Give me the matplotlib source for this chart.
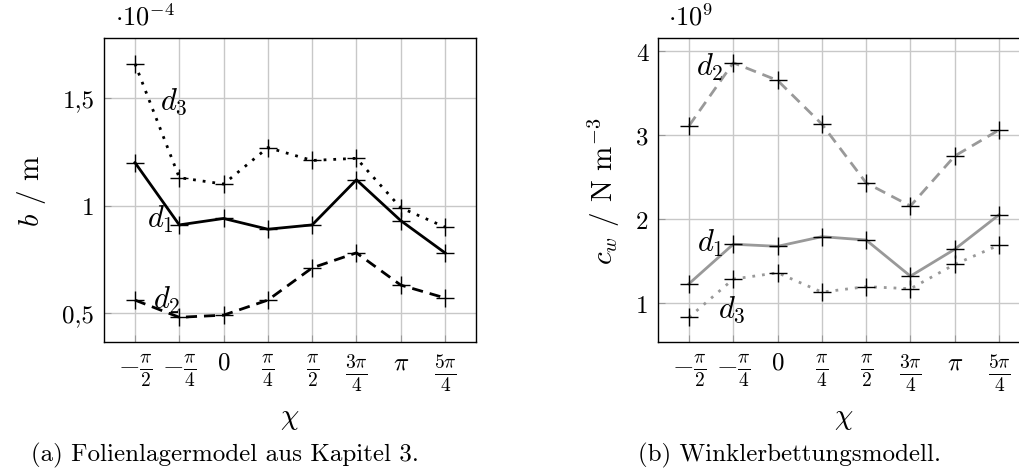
import numpy as np
import matplotlib
matplotlib.use("Agg")
import matplotlib.pyplot as plt

plt.rcParams['font.family'] = ['cmr10', 'DejaVu Serif']
plt.rcParams['mathtext.fontset'] = 'cm'
plt.rcParams['axes.unicode_minus'] = False

# chi values (multiples of pi/4)
chi = np.array([-2, -1, 0, 1, 2, 3, 4, 5]) * np.pi / 4
chi_labels = [r'$-\frac{\pi}{2}$', r'$-\frac{\pi}{4}$', r'$0$', r'$\frac{\pi}{4}$',
              r'$\frac{\pi}{2}$', r'$\frac{3\pi}{4}$', r'$\pi$', r'$\frac{5\pi}{4}$']

# (a) b in 1e-4 m
b_d1 = [1.20, 0.91, 0.94, 0.89, 0.91, 1.12, 0.93, 0.78]
b_d2 = [0.56, 0.48, 0.49, 0.56, 0.71, 0.78, 0.63, 0.57]
b_d3 = [1.66, 1.13, 1.10, 1.27, 1.21, 1.22, 0.99, 0.90]

# (b) c_w in 1e9 N m^-3
c_d1 = [1.23, 1.70, 1.675, 1.79, 1.75, 1.32, 1.64, 2.05]
c_d2 = [3.11, 3.86, 3.65, 3.13, 2.43, 2.155, 2.75, 3.06]
c_d3 = [0.83, 1.285, 1.36, 1.13, 1.195, 1.17, 1.46, 1.69]

W, H = 1019, 477
fig = plt.figure(figsize=(W / 100, H / 100), dpi=100)

step = np.pi / 4
xlim = (chi[0] - 0.70 * step, chi[-1] + 0.70 * step)


def setup(ax, yticks, ylabels, ylim):
    ax.set_xlim(*xlim)
    ax.set_ylim(*ylim)
    ax.set_xticks(chi)
    ax.set_xticklabels(chi_labels)
    for lab, txt in zip(ax.get_xticklabels(), chi_labels):
        lab.set_fontsize(20 if 'frac' in txt else 18)
    ax.set_yticks(yticks)
    ax.set_yticklabels(ylabels, fontsize=18)
    ax.grid(True, color='#c8c8c8', linewidth=1.0)
    ax.set_axisbelow(True)
    ax.tick_params(direction='in', length=5, color='#999999', pad=7)
    for s in ax.spines.values():
        s.set_linewidth(1.0)
    ax.set_xlabel(r'$\chi$', fontsize=21, labelpad=8)


ax1 = fig.add_axes([104 / W, (H - 343) / H, 372 / W, 304 / H])
setup(ax1, [0.5, 1.0, 1.5], ['0,5', '1', '1,5'], (0.365, 1.78))
ax1.plot(chi, b_d1, color='black', lw=2.0, ls='-', marker='+', ms=13, mew=1.0)
ax1.plot(chi, b_d2, color='black', lw=2.0, ls=(0, (4, 2.5)), marker='+', ms=13, mew=1.0)
ax1.plot(chi, b_d3, color='black', lw=2.0, ls=(0, (1, 2.5)), marker='+', ms=13, mew=1.0)
ax1.set_ylabel('$b$ / m', fontsize=21, labelpad=10)
ax1.text(-0.88, 1.49, '$d_3$', fontsize=22, ha='center', va='center')
ax1.text(-1.12, 0.94, '$d_1$', fontsize=22, ha='center', va='center')
ax1.text(-1.0, 0.565, '$d_2$', fontsize=22, ha='center', va='center')
fig.text(115 / W, 1 - 17 / H, r'$\cdot 10^{-4}$', fontsize=19, ha='left', va='center')

ax2 = fig.add_axes([658 / W, (H - 343) / H, 372 / W, 304 / H])
setup(ax2, [1, 2, 3, 4], ['1', '2', '3', '4'], (0.536, 4.155))
gray = '#999999'
ax2.plot(chi, c_d1, color=gray, lw=2.0, ls='-', marker='+', ms=13, mew=1.0, mec='black')
ax2.plot(chi, c_d2, color=gray, lw=2.0, ls=(0, (4, 2.5)), marker='+', ms=13, mew=1.0, mec='black')
ax2.plot(chi, c_d3, color=gray, lw=2.0, ls=(0, (1, 2.5)), marker='+', ms=13, mew=1.0, mec='black')
ax2.set_ylabel(r'$c_w$ / N m$^{-3}$', fontsize=21, labelpad=10)
ax2.text(-1.2, 3.82, '$d_2$', fontsize=22, ha='center', va='center')
ax2.text(-1.2, 1.72, '$d_1$', fontsize=22, ha='center', va='center')
ax2.text(-0.82, 0.93, '$d_3$', fontsize=22, ha='center', va='center')
fig.text(668 / W, 1 - 17 / H, r'$\cdot 10^{9}$', fontsize=19, ha='left', va='center')

fig.text(225 / W, 1 - 455 / H, '(a) Folienlagermodel aus Kapitel 3.', fontsize=18, ha='center', va='center')
fig.text(790 / W, 1 - 455 / H, '(b) Winklerbettungsmodell.', fontsize=18, ha='center', va='center')

fig.savefig('out.png', dpi=100)
